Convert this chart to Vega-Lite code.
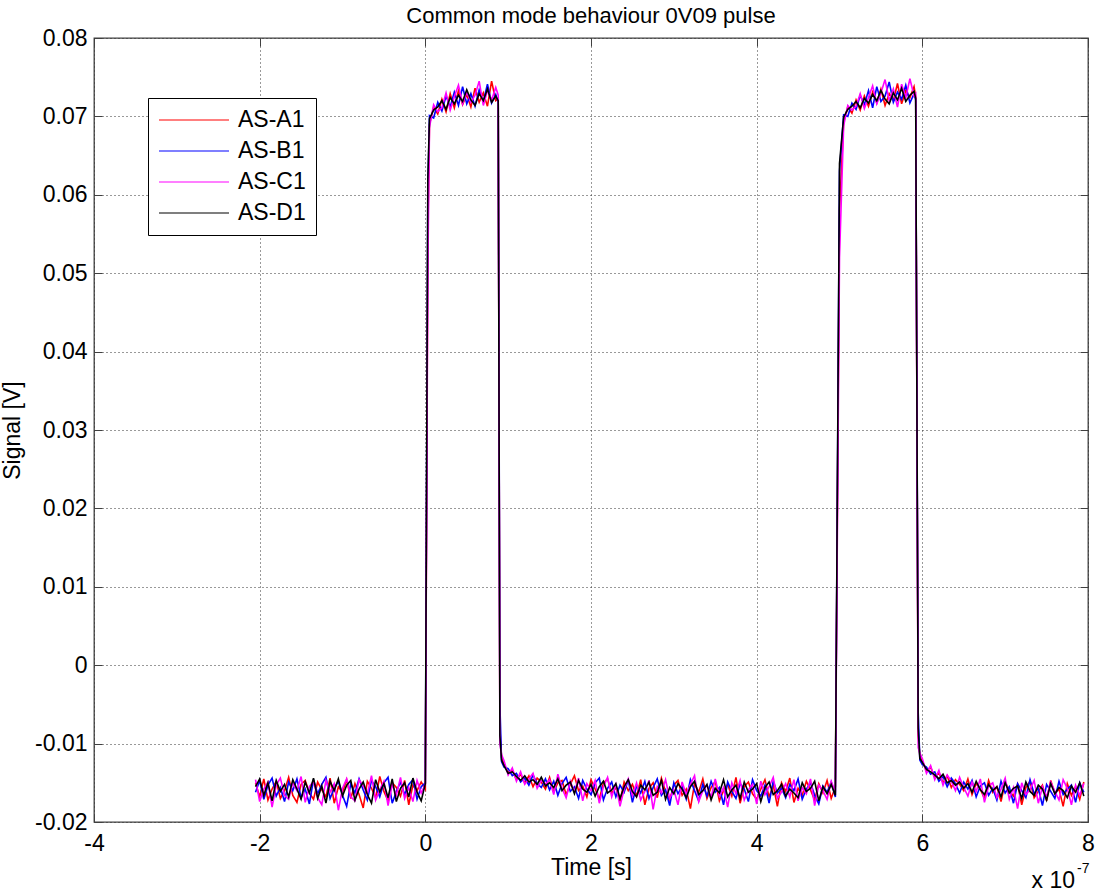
{
"$schema":"https://vega.github.io/schema/vega-lite/v6.json",
"width":994,"height":784,
"autosize":"none",
"padding":{"left":94,"top":38,"right":8,"bottom":72},
"background":"white",
"title":{"text":"Common mode behaviour 0V09 pulse","font":"Liberation Sans","fontSize":22,"fontWeight":"normal","color":"black","offset":-1},
"config":{
 "view":{"stroke":"#404040","strokeWidth":1.3},
 "axis":{"labelFont":"Liberation Sans","titleFont":"Liberation Sans","labelFontSize":23,"titleFontSize":23,"labelColor":"black","titleColor":"black","titleFontWeight":"normal","domain":false,"tickColor":"#404040","tickWidth":1,"gridColor":"#333333","gridDash":[1,3],"gridOpacity":1,"gridWidth":1,"labelFlush":false,"labelOverlap":false,"labelBound":false}
},
"data":{"values":[
{"t":-2.05,"AS-A1":-0.0150,"AS-B1":-0.0162,"AS-C1":-0.0146,"AS-D1":-0.0155},
{"t":-2.00,"AS-A1":-0.0168,"AS-B1":-0.0147,"AS-C1":-0.0174,"AS-D1":-0.0145},
{"t":-1.95,"AS-A1":-0.0145,"AS-B1":-0.0171,"AS-C1":-0.0158,"AS-D1":-0.0166},
{"t":-1.90,"AS-A1":-0.0172,"AS-B1":-0.0153,"AS-C1":-0.0149,"AS-D1":-0.0150},
{"t":-1.85,"AS-A1":-0.0158,"AS-B1":-0.0144,"AS-C1":-0.0181,"AS-D1":-0.0173},
{"t":-1.80,"AS-A1":-0.0148,"AS-B1":-0.0167,"AS-C1":-0.0153,"AS-D1":-0.0147},
{"t":-1.75,"AS-A1":-0.0170,"AS-B1":-0.0156,"AS-C1":-0.0144,"AS-D1":-0.0161},
{"t":-1.70,"AS-A1":-0.0160,"AS-B1":-0.0174,"AS-C1":-0.0166,"AS-D1":-0.0152},
{"t":-1.65,"AS-A1":-0.0143,"AS-B1":-0.0149,"AS-C1":-0.0171,"AS-D1":-0.0168},
{"t":-1.60,"AS-A1":-0.0166,"AS-B1":-0.0160,"AS-C1":-0.0150,"AS-D1":-0.0146},
{"t":-1.55,"AS-A1":-0.0175,"AS-B1":-0.0145,"AS-C1":-0.0160,"AS-D1":-0.0158},
{"t":-1.50,"AS-A1":-0.0152,"AS-B1":-0.0169,"AS-C1":-0.0142,"AS-D1":-0.0171},
{"t":-1.45,"AS-A1":-0.0147,"AS-B1":-0.0158,"AS-C1":-0.0175,"AS-D1":-0.0149},
{"t":-1.40,"AS-A1":-0.0163,"AS-B1":-0.0177,"AS-C1":-0.0155,"AS-D1":-0.0163},
{"t":-1.35,"AS-A1":-0.0171,"AS-B1":-0.0146,"AS-C1":-0.0148,"AS-D1":-0.0144},
{"t":-1.30,"AS-A1":-0.0149,"AS-B1":-0.0164,"AS-C1":-0.0169,"AS-D1":-0.0170},
{"t":-1.25,"AS-A1":-0.0159,"AS-B1":-0.0152,"AS-C1":-0.0178,"AS-D1":-0.0154},
{"t":-1.20,"AS-A1":-0.0168,"AS-B1":-0.0143,"AS-C1":-0.0147,"AS-D1":-0.0176},
{"t":-1.15,"AS-A1":-0.0144,"AS-B1":-0.0170,"AS-C1":-0.0162,"AS-D1":-0.0148},
{"t":-1.10,"AS-A1":-0.0176,"AS-B1":-0.0157,"AS-C1":-0.0151,"AS-D1":-0.0160},
{"t":-1.05,"AS-A1":-0.0155,"AS-B1":-0.0148,"AS-C1":-0.0185,"AS-D1":-0.0145},
{"t":-1.00,"AS-A1":-0.0162,"AS-B1":-0.0166,"AS-C1":-0.0157,"AS-D1":-0.0167},
{"t":-0.95,"AS-A1":-0.0146,"AS-B1":-0.0180,"AS-C1":-0.0145,"AS-D1":-0.0153},
{"t":-0.90,"AS-A1":-0.0170,"AS-B1":-0.0151,"AS-C1":-0.0168,"AS-D1":-0.0147},
{"t":-0.85,"AS-A1":-0.0151,"AS-B1":-0.0163,"AS-C1":-0.0173,"AS-D1":-0.0172},
{"t":-0.80,"AS-A1":-0.0165,"AS-B1":-0.0145,"AS-C1":-0.0146,"AS-D1":-0.0158},
{"t":-0.75,"AS-A1":-0.0182,"AS-B1":-0.0159,"AS-C1":-0.0154,"AS-D1":-0.0149},
{"t":-0.70,"AS-A1":-0.0148,"AS-B1":-0.0172,"AS-C1":-0.0164,"AS-D1":-0.0165},
{"t":-0.65,"AS-A1":-0.0157,"AS-B1":-0.0147,"AS-C1":-0.0141,"AS-D1":-0.0176},
{"t":-0.60,"AS-A1":-0.0169,"AS-B1":-0.0155,"AS-C1":-0.0172,"AS-D1":-0.0146},
{"t":-0.55,"AS-A1":-0.0142,"AS-B1":-0.0168,"AS-C1":-0.0159,"AS-D1":-0.0162},
{"t":-0.50,"AS-A1":-0.0161,"AS-B1":-0.0150,"AS-C1":-0.0148,"AS-D1":-0.0151},
{"t":-0.45,"AS-A1":-0.0173,"AS-B1":-0.0143,"AS-C1":-0.0179,"AS-D1":-0.0169},
{"t":-0.40,"AS-A1":-0.0150,"AS-B1":-0.0176,"AS-C1":-0.0152,"AS-D1":-0.0145},
{"t":-0.35,"AS-A1":-0.0156,"AS-B1":-0.0161,"AS-C1":-0.0166,"AS-D1":-0.0174},
{"t":-0.30,"AS-A1":-0.0167,"AS-B1":-0.0149,"AS-C1":-0.0143,"AS-D1":-0.0157},
{"t":-0.25,"AS-A1":-0.0147,"AS-B1":-0.0165,"AS-C1":-0.0170,"AS-D1":-0.0150},
{"t":-0.20,"AS-A1":-0.0178,"AS-B1":-0.0152,"AS-C1":-0.0156,"AS-D1":-0.0168},
{"t":-0.15,"AS-A1":-0.0153,"AS-B1":-0.0146,"AS-C1":-0.0174,"AS-D1":-0.0144},
{"t":-0.10,"AS-A1":-0.0160,"AS-B1":-0.0171,"AS-C1":-0.0147,"AS-D1":-0.0162},
{"t":-0.05,"AS-A1":-0.0149,"AS-B1":-0.0155,"AS-C1":-0.0163,"AS-D1":-0.0173},
{"t":0.00,"AS-A1":-0.0158,"AS-B1":-0.0150,"AS-C1":-0.0152,"AS-D1":-0.0151},
{"t":0.03,"AS-A1":0.0550,"AS-B1":0.0600,"AS-C1":0.0500,"AS-D1":0.0620},
{"t":0.05,"AS-A1":0.0690,"AS-B1":0.0701,"AS-C1":0.0686,"AS-D1":0.0697},
{"t":0.10,"AS-A1":0.0712,"AS-B1":0.0698,"AS-C1":0.0715,"AS-D1":0.0708},
{"t":0.15,"AS-A1":0.0703,"AS-B1":0.0718,"AS-C1":0.0706,"AS-D1":0.0712},
{"t":0.20,"AS-A1":0.0722,"AS-B1":0.0707,"AS-C1":0.0711,"AS-D1":0.0720},
{"t":0.25,"AS-A1":0.0706,"AS-B1":0.0726,"AS-C1":0.0730,"AS-D1":0.0709},
{"t":0.30,"AS-A1":0.0729,"AS-B1":0.0712,"AS-C1":0.0708,"AS-D1":0.0724},
{"t":0.35,"AS-A1":0.0711,"AS-B1":0.0731,"AS-C1":0.0725,"AS-D1":0.0716},
{"t":0.40,"AS-A1":0.0733,"AS-B1":0.0714,"AS-C1":0.0740,"AS-D1":0.0727},
{"t":0.45,"AS-A1":0.0715,"AS-B1":0.0738,"AS-C1":0.0716,"AS-D1":0.0719},
{"t":0.50,"AS-A1":0.0728,"AS-B1":0.0716,"AS-C1":0.0731,"AS-D1":0.0734},
{"t":0.55,"AS-A1":0.0712,"AS-B1":0.0729,"AS-C1":0.0718,"AS-D1":0.0721},
{"t":0.60,"AS-A1":0.0736,"AS-B1":0.0713,"AS-C1":0.0727,"AS-D1":0.0714},
{"t":0.65,"AS-A1":0.0718,"AS-B1":0.0734,"AS-C1":0.0745,"AS-D1":0.0729},
{"t":0.70,"AS-A1":0.0730,"AS-B1":0.0719,"AS-C1":0.0714,"AS-D1":0.0720},
{"t":0.75,"AS-A1":0.0713,"AS-B1":0.0741,"AS-C1":0.0733,"AS-D1":0.0735},
{"t":0.80,"AS-A1":0.0745,"AS-B1":0.0717,"AS-C1":0.0721,"AS-D1":0.0718},
{"t":0.85,"AS-A1":0.0720,"AS-B1":0.0728,"AS-C1":0.0737,"AS-D1":0.0726},
{"t":0.88,"AS-A1":0.0722,"AS-B1":0.0718,"AS-C1":0.0727,"AS-D1":0.0720},
{"t":0.90,"AS-A1":-0.0080,"AS-B1":-0.0050,"AS-C1":-0.0100,"AS-D1":-0.0090},
{"t":0.92,"AS-A1":-0.0118,"AS-B1":-0.0123,"AS-C1":-0.0114,"AS-D1":-0.0121},
{"t":0.95,"AS-A1":-0.0126,"AS-B1":-0.0130,"AS-C1":-0.0122,"AS-D1":-0.0128},
{"t":1.00,"AS-A1":-0.0137,"AS-B1":-0.0132,"AS-C1":-0.0140,"AS-D1":-0.0138},
{"t":1.05,"AS-A1":-0.0134,"AS-B1":-0.0141,"AS-C1":-0.0131,"AS-D1":-0.0136},
{"t":1.10,"AS-A1":-0.0146,"AS-B1":-0.0138,"AS-C1":-0.0148,"AS-D1":-0.0142},
{"t":1.15,"AS-A1":-0.0139,"AS-B1":-0.0149,"AS-C1":-0.0136,"AS-D1":-0.0147},
{"t":1.20,"AS-A1":-0.0150,"AS-B1":-0.0144,"AS-C1":-0.0152,"AS-D1":-0.0141},
{"t":1.25,"AS-A1":-0.0141,"AS-B1":-0.0153,"AS-C1":-0.0145,"AS-D1":-0.0149},
{"t":1.30,"AS-A1":-0.0155,"AS-B1":-0.0140,"AS-C1":-0.0138,"AS-D1":-0.0146},
{"t":1.35,"AS-A1":-0.0144,"AS-B1":-0.0151,"AS-C1":-0.0157,"AS-D1":-0.0152},
{"t":1.40,"AS-A1":-0.0149,"AS-B1":-0.0156,"AS-C1":-0.0147,"AS-D1":-0.0143},
{"t":1.45,"AS-A1":-0.0158,"AS-B1":-0.0145,"AS-C1":-0.0152,"AS-D1":-0.0154},
{"t":1.50,"AS-A1":-0.0143,"AS-B1":-0.0159,"AS-C1":-0.0146,"AS-D1":-0.0150},
{"t":1.55,"AS-A1":-0.0162,"AS-B1":-0.0148,"AS-C1":-0.0165,"AS-D1":-0.0156},
{"t":1.60,"AS-A1":-0.0150,"AS-B1":-0.0166,"AS-C1":-0.0139,"AS-D1":-0.0145},
{"t":1.65,"AS-A1":-0.0147,"AS-B1":-0.0151,"AS-C1":-0.0157,"AS-D1":-0.0160},
{"t":1.70,"AS-A1":-0.0165,"AS-B1":-0.0143,"AS-C1":-0.0169,"AS-D1":-0.0153},
{"t":1.75,"AS-A1":-0.0152,"AS-B1":-0.0161,"AS-C1":-0.0148,"AS-D1":-0.0149},
{"t":1.80,"AS-A1":-0.0141,"AS-B1":-0.0155,"AS-C1":-0.0162,"AS-D1":-0.0164},
{"t":1.85,"AS-A1":-0.0160,"AS-B1":-0.0170,"AS-C1":-0.0144,"AS-D1":-0.0147},
{"t":1.90,"AS-A1":-0.0154,"AS-B1":-0.0147,"AS-C1":-0.0173,"AS-D1":-0.0158},
{"t":1.95,"AS-A1":-0.0168,"AS-B1":-0.0158,"AS-C1":-0.0151,"AS-D1":-0.0162},
{"t":2.00,"AS-A1":-0.0146,"AS-B1":-0.0165,"AS-C1":-0.0160,"AS-D1":-0.0152},
{"t":2.05,"AS-A1":-0.0158,"AS-B1":-0.0150,"AS-C1":-0.0147,"AS-D1":-0.0167},
{"t":2.10,"AS-A1":-0.0171,"AS-B1":-0.0144,"AS-C1":-0.0176,"AS-D1":-0.0155},
{"t":2.15,"AS-A1":-0.0150,"AS-B1":-0.0172,"AS-C1":-0.0155,"AS-D1":-0.0148},
{"t":2.20,"AS-A1":-0.0145,"AS-B1":-0.0157,"AS-C1":-0.0143,"AS-D1":-0.0163},
{"t":2.25,"AS-A1":-0.0163,"AS-B1":-0.0149,"AS-C1":-0.0168,"AS-D1":-0.0159},
{"t":2.30,"AS-A1":-0.0156,"AS-B1":-0.0168,"AS-C1":-0.0152,"AS-D1":-0.0151},
{"t":2.35,"AS-A1":-0.0174,"AS-B1":-0.0153,"AS-C1":-0.0180,"AS-D1":-0.0170},
{"t":2.40,"AS-A1":-0.0149,"AS-B1":-0.0162,"AS-C1":-0.0158,"AS-D1":-0.0155},
{"t":2.45,"AS-A1":-0.0160,"AS-B1":-0.0146,"AS-C1":-0.0145,"AS-D1":-0.0146},
{"t":2.50,"AS-A1":-0.0152,"AS-B1":-0.0175,"AS-C1":-0.0166,"AS-D1":-0.0161},
{"t":2.55,"AS-A1":-0.0167,"AS-B1":-0.0154,"AS-C1":-0.0150,"AS-D1":-0.0168},
{"t":2.60,"AS-A1":-0.0146,"AS-B1":-0.0163,"AS-C1":-0.0172,"AS-D1":-0.0153},
{"t":2.65,"AS-A1":-0.0178,"AS-B1":-0.0148,"AS-C1":-0.0161,"AS-D1":-0.0159},
{"t":2.70,"AS-A1":-0.0157,"AS-B1":-0.0170,"AS-C1":-0.0147,"AS-D1":-0.0149},
{"t":2.75,"AS-A1":-0.0150,"AS-B1":-0.0156,"AS-C1":-0.0184,"AS-D1":-0.0166},
{"t":2.80,"AS-A1":-0.0169,"AS-B1":-0.0145,"AS-C1":-0.0155,"AS-D1":-0.0162},
{"t":2.85,"AS-A1":-0.0144,"AS-B1":-0.0166,"AS-C1":-0.0163,"AS-D1":-0.0147},
{"t":2.90,"AS-A1":-0.0161,"AS-B1":-0.0159,"AS-C1":-0.0146,"AS-D1":-0.0171},
{"t":2.95,"AS-A1":-0.0172,"AS-B1":-0.0179,"AS-C1":-0.0170,"AS-D1":-0.0156},
{"t":3.00,"AS-A1":-0.0153,"AS-B1":-0.0150,"AS-C1":-0.0159,"AS-D1":-0.0164},
{"t":3.05,"AS-A1":-0.0147,"AS-B1":-0.0164,"AS-C1":-0.0178,"AS-D1":-0.0151},
{"t":3.10,"AS-A1":-0.0166,"AS-B1":-0.0155,"AS-C1":-0.0149,"AS-D1":-0.0158},
{"t":3.15,"AS-A1":-0.0158,"AS-B1":-0.0171,"AS-C1":-0.0165,"AS-D1":-0.0169},
{"t":3.20,"AS-A1":-0.0183,"AS-B1":-0.0146,"AS-C1":-0.0152,"AS-D1":-0.0155},
{"t":3.25,"AS-A1":-0.0151,"AS-B1":-0.0160,"AS-C1":-0.0141,"AS-D1":-0.0148},
{"t":3.30,"AS-A1":-0.0162,"AS-B1":-0.0173,"AS-C1":-0.0174,"AS-D1":-0.0165},
{"t":3.35,"AS-A1":-0.0145,"AS-B1":-0.0152,"AS-C1":-0.0160,"AS-D1":-0.0160},
{"t":3.40,"AS-A1":-0.0170,"AS-B1":-0.0167,"AS-C1":-0.0153,"AS-D1":-0.0152},
{"t":3.45,"AS-A1":-0.0156,"AS-B1":-0.0148,"AS-C1":-0.0169,"AS-D1":-0.0172},
{"t":3.50,"AS-A1":-0.0148,"AS-B1":-0.0162,"AS-C1":-0.0145,"AS-D1":-0.0157},
{"t":3.55,"AS-A1":-0.0173,"AS-B1":-0.0156,"AS-C1":-0.0167,"AS-D1":-0.0163},
{"t":3.60,"AS-A1":-0.0160,"AS-B1":-0.0178,"AS-C1":-0.0156,"AS-D1":-0.0146},
{"t":3.65,"AS-A1":-0.0152,"AS-B1":-0.0149,"AS-C1":-0.0181,"AS-D1":-0.0168},
{"t":3.70,"AS-A1":-0.0167,"AS-B1":-0.0161,"AS-C1":-0.0150,"AS-D1":-0.0159},
{"t":3.75,"AS-A1":-0.0143,"AS-B1":-0.0170,"AS-C1":-0.0164,"AS-D1":-0.0153},
{"t":3.80,"AS-A1":-0.0176,"AS-B1":-0.0151,"AS-C1":-0.0147,"AS-D1":-0.0170},
{"t":3.85,"AS-A1":-0.0155,"AS-B1":-0.0158,"AS-C1":-0.0172,"AS-D1":-0.0149},
{"t":3.90,"AS-A1":-0.0149,"AS-B1":-0.0174,"AS-C1":-0.0159,"AS-D1":-0.0162},
{"t":3.95,"AS-A1":-0.0164,"AS-B1":-0.0146,"AS-C1":-0.0152,"AS-D1":-0.0158},
{"t":4.00,"AS-A1":-0.0171,"AS-B1":-0.0160,"AS-C1":-0.0177,"AS-D1":-0.0151},
{"t":4.05,"AS-A1":-0.0158,"AS-B1":-0.0167,"AS-C1":-0.0148,"AS-D1":-0.0174},
{"t":4.10,"AS-A1":-0.0146,"AS-B1":-0.0153,"AS-C1":-0.0165,"AS-D1":-0.0156},
{"t":4.15,"AS-A1":-0.0168,"AS-B1":-0.0176,"AS-C1":-0.0155,"AS-D1":-0.0149},
{"t":4.20,"AS-A1":-0.0153,"AS-B1":-0.0148,"AS-C1":-0.0143,"AS-D1":-0.0165},
{"t":4.25,"AS-A1":-0.0180,"AS-B1":-0.0163,"AS-C1":-0.0170,"AS-D1":-0.0160},
{"t":4.30,"AS-A1":-0.0150,"AS-B1":-0.0157,"AS-C1":-0.0162,"AS-D1":-0.0152},
{"t":4.35,"AS-A1":-0.0161,"AS-B1":-0.0169,"AS-C1":-0.0151,"AS-D1":-0.0167},
{"t":4.40,"AS-A1":-0.0144,"AS-B1":-0.0152,"AS-C1":-0.0168,"AS-D1":-0.0158},
{"t":4.45,"AS-A1":-0.0175,"AS-B1":-0.0160,"AS-C1":-0.0146,"AS-D1":-0.0163},
{"t":4.50,"AS-A1":-0.0157,"AS-B1":-0.0145,"AS-C1":-0.0173,"AS-D1":-0.0169},
{"t":4.55,"AS-A1":-0.0166,"AS-B1":-0.0171,"AS-C1":-0.0156,"AS-D1":-0.0150},
{"t":4.60,"AS-A1":-0.0148,"AS-B1":-0.0158,"AS-C1":-0.0164,"AS-D1":-0.0161},
{"t":4.65,"AS-A1":-0.0159,"AS-B1":-0.0150,"AS-C1":-0.0145,"AS-D1":-0.0157},
{"t":4.70,"AS-A1":-0.0172,"AS-B1":-0.0166,"AS-C1":-0.0179,"AS-D1":-0.0148},
{"t":4.75,"AS-A1":-0.0151,"AS-B1":-0.0177,"AS-C1":-0.0153,"AS-D1":-0.0173},
{"t":4.80,"AS-A1":-0.0163,"AS-B1":-0.0154,"AS-C1":-0.0160,"AS-D1":-0.0155},
{"t":4.85,"AS-A1":-0.0147,"AS-B1":-0.0162,"AS-C1":-0.0171,"AS-D1":-0.0164},
{"t":4.90,"AS-A1":-0.0170,"AS-B1":-0.0149,"AS-C1":-0.0148,"AS-D1":-0.0152},
{"t":4.95,"AS-A1":-0.0155,"AS-B1":-0.0168,"AS-C1":-0.0162,"AS-D1":-0.0166},
{"t":5.00,"AS-A1":0.0580,"AS-B1":0.0630,"AS-C1":0.0520,"AS-D1":0.0640},
{"t":5.05,"AS-A1":0.0693,"AS-B1":0.0702,"AS-C1":0.0688,"AS-D1":0.0699},
{"t":5.10,"AS-A1":0.0712,"AS-B1":0.0700,"AS-C1":0.0714,"AS-D1":0.0709},
{"t":5.15,"AS-A1":0.0704,"AS-B1":0.0717,"AS-C1":0.0708,"AS-D1":0.0713},
{"t":5.20,"AS-A1":0.0721,"AS-B1":0.0709,"AS-C1":0.0713,"AS-D1":0.0719},
{"t":5.25,"AS-A1":0.0708,"AS-B1":0.0727,"AS-C1":0.0729,"AS-D1":0.0711},
{"t":5.30,"AS-A1":0.0726,"AS-B1":0.0715,"AS-C1":0.0710,"AS-D1":0.0723},
{"t":5.35,"AS-A1":0.0713,"AS-B1":0.0733,"AS-C1":0.0724,"AS-D1":0.0717},
{"t":5.40,"AS-A1":0.0731,"AS-B1":0.0711,"AS-C1":0.0739,"AS-D1":0.0728},
{"t":5.45,"AS-A1":0.0717,"AS-B1":0.0738,"AS-C1":0.0716,"AS-D1":0.0720},
{"t":5.50,"AS-A1":0.0735,"AS-B1":0.0719,"AS-C1":0.0730,"AS-D1":0.0733},
{"t":5.55,"AS-A1":0.0714,"AS-B1":0.0726,"AS-C1":0.0747,"AS-D1":0.0722},
{"t":5.60,"AS-A1":0.0729,"AS-B1":0.0744,"AS-C1":0.0720,"AS-D1":0.0716},
{"t":5.65,"AS-A1":0.0720,"AS-B1":0.0718,"AS-C1":0.0735,"AS-D1":0.0730},
{"t":5.70,"AS-A1":0.0742,"AS-B1":0.0731,"AS-C1":0.0712,"AS-D1":0.0721},
{"t":5.75,"AS-A1":0.0716,"AS-B1":0.0722,"AS-C1":0.0741,"AS-D1":0.0736},
{"t":5.80,"AS-A1":0.0733,"AS-B1":0.0740,"AS-C1":0.0724,"AS-D1":0.0719},
{"t":5.85,"AS-A1":0.0724,"AS-B1":0.0717,"AS-C1":0.0748,"AS-D1":0.0727},
{"t":5.90,"AS-A1":0.0738,"AS-B1":0.0729,"AS-C1":0.0726,"AS-D1":0.0732},
{"t":5.92,"AS-A1":0.0725,"AS-B1":0.0721,"AS-C1":0.0729,"AS-D1":0.0723},
{"t":5.95,"AS-A1":-0.0090,"AS-B1":-0.0060,"AS-C1":-0.0105,"AS-D1":-0.0080},
{"t":5.97,"AS-A1":-0.0116,"AS-B1":-0.0121,"AS-C1":-0.0112,"AS-D1":-0.0119},
{"t":6.00,"AS-A1":-0.0122,"AS-B1":-0.0127,"AS-C1":-0.0119,"AS-D1":-0.0124},
{"t":6.05,"AS-A1":-0.0135,"AS-B1":-0.0130,"AS-C1":-0.0138,"AS-D1":-0.0133},
{"t":6.10,"AS-A1":-0.0130,"AS-B1":-0.0139,"AS-C1":-0.0128,"AS-D1":-0.0136},
{"t":6.15,"AS-A1":-0.0143,"AS-B1":-0.0136,"AS-C1":-0.0146,"AS-D1":-0.0140},
{"t":6.20,"AS-A1":-0.0137,"AS-B1":-0.0148,"AS-C1":-0.0134,"AS-D1":-0.0145},
{"t":6.25,"AS-A1":-0.0150,"AS-B1":-0.0142,"AS-C1":-0.0153,"AS-D1":-0.0139},
{"t":6.30,"AS-A1":-0.0141,"AS-B1":-0.0155,"AS-C1":-0.0140,"AS-D1":-0.0150},
{"t":6.35,"AS-A1":-0.0156,"AS-B1":-0.0144,"AS-C1":-0.0148,"AS-D1":-0.0147},
{"t":6.40,"AS-A1":-0.0146,"AS-B1":-0.0151,"AS-C1":-0.0160,"AS-D1":-0.0153},
{"t":6.45,"AS-A1":-0.0152,"AS-B1":-0.0163,"AS-C1":-0.0143,"AS-D1":-0.0149},
{"t":6.50,"AS-A1":-0.0160,"AS-B1":-0.0149,"AS-C1":-0.0156,"AS-D1":-0.0157},
{"t":6.55,"AS-A1":-0.0145,"AS-B1":-0.0158,"AS-C1":-0.0167,"AS-D1":-0.0151},
{"t":6.60,"AS-A1":-0.0165,"AS-B1":-0.0147,"AS-C1":-0.0149,"AS-D1":-0.0162},
{"t":6.65,"AS-A1":-0.0151,"AS-B1":-0.0168,"AS-C1":-0.0161,"AS-D1":-0.0148},
{"t":6.70,"AS-A1":-0.0158,"AS-B1":-0.0154,"AS-C1":-0.0145,"AS-D1":-0.0159},
{"t":6.75,"AS-A1":-0.0170,"AS-B1":-0.0150,"AS-C1":-0.0175,"AS-D1":-0.0165},
{"t":6.80,"AS-A1":-0.0147,"AS-B1":-0.0166,"AS-C1":-0.0154,"AS-D1":-0.0152},
{"t":6.85,"AS-A1":-0.0162,"AS-B1":-0.0157,"AS-C1":-0.0150,"AS-D1":-0.0160},
{"t":6.90,"AS-A1":-0.0155,"AS-B1":-0.0172,"AS-C1":-0.0169,"AS-D1":-0.0155},
{"t":6.95,"AS-A1":-0.0174,"AS-B1":-0.0148,"AS-C1":-0.0158,"AS-D1":-0.0168},
{"t":7.00,"AS-A1":-0.0149,"AS-B1":-0.0163,"AS-C1":-0.0144,"AS-D1":-0.0150},
{"t":7.05,"AS-A1":-0.0160,"AS-B1":-0.0155,"AS-C1":-0.0171,"AS-D1":-0.0163},
{"t":7.10,"AS-A1":-0.0167,"AS-B1":-0.0176,"AS-C1":-0.0156,"AS-D1":-0.0157},
{"t":7.15,"AS-A1":-0.0152,"AS-B1":-0.0151,"AS-C1":-0.0183,"AS-D1":-0.0154},
{"t":7.20,"AS-A1":-0.0178,"AS-B1":-0.0160,"AS-C1":-0.0150,"AS-D1":-0.0170},
{"t":7.25,"AS-A1":-0.0156,"AS-B1":-0.0169,"AS-C1":-0.0165,"AS-D1":-0.0149},
{"t":7.30,"AS-A1":-0.0148,"AS-B1":-0.0146,"AS-C1":-0.0159,"AS-D1":-0.0161},
{"t":7.35,"AS-A1":-0.0169,"AS-B1":-0.0164,"AS-C1":-0.0147,"AS-D1":-0.0166},
{"t":7.40,"AS-A1":-0.0161,"AS-B1":-0.0157,"AS-C1":-0.0176,"AS-D1":-0.0153},
{"t":7.45,"AS-A1":-0.0153,"AS-B1":-0.0179,"AS-C1":-0.0155,"AS-D1":-0.0158},
{"t":7.50,"AS-A1":-0.0173,"AS-B1":-0.0152,"AS-C1":-0.0168,"AS-D1":-0.0172},
{"t":7.55,"AS-A1":-0.0147,"AS-B1":-0.0161,"AS-C1":-0.0149,"AS-D1":-0.0151},
{"t":7.60,"AS-A1":-0.0164,"AS-B1":-0.0170,"AS-C1":-0.0161,"AS-D1":-0.0164},
{"t":7.65,"AS-A1":-0.0158,"AS-B1":-0.0148,"AS-C1":-0.0172,"AS-D1":-0.0156},
{"t":7.70,"AS-A1":-0.0180,"AS-B1":-0.0165,"AS-C1":-0.0146,"AS-D1":-0.0160},
{"t":7.75,"AS-A1":-0.0151,"AS-B1":-0.0158,"AS-C1":-0.0157,"AS-D1":-0.0169},
{"t":7.80,"AS-A1":-0.0166,"AS-B1":-0.0153,"AS-C1":-0.0178,"AS-D1":-0.0154},
{"t":7.85,"AS-A1":-0.0155,"AS-B1":-0.0175,"AS-C1":-0.0153,"AS-D1":-0.0162},
{"t":7.90,"AS-A1":-0.0171,"AS-B1":-0.0150,"AS-C1":-0.0166,"AS-D1":-0.0150},
{"t":7.95,"AS-A1":-0.0149,"AS-B1":-0.0162,"AS-C1":-0.0151,"AS-D1":-0.0167}
]},
"layer":[
 {
  "transform":[{"fold":["AS-A1","AS-B1","AS-C1","AS-D1"],"as":["series","value"]}],
  "mark":{"type":"line","strokeWidth":1.6},
  "encoding":{
   "x":{"field":"t","type":"quantitative","scale":{"domain":[-4,8],"nice":false,"zero":false},
        "axis":{"orient":"bottom","values":[-4,-2,0,2,4,6,8],"labelExpr":"replace(format(datum.value,'d'),'\u2212','-')","grid":true,"tickSize":-8,"labelPadding":18,"title":"Time [s]","titlePadding":1}},
   "y":{"field":"value","type":"quantitative","scale":{"domain":[-0.02,0.08],"nice":false,"zero":false},
        "axis":{"orient":"left","values":[-0.02,-0.01,0,0.01,0.02,0.03,0.04,0.05,0.06,0.07,0.08],"labelExpr":"datum.value == 0 ? '0' : replace(format(datum.value,'.2f'),'\u2212','-')","grid":true,"tickSize":-8,"labelPadding":15,"title":"Signal [V]","titlePadding":10}},
   "color":{"field":"series","type":"nominal","scale":{"domain":["AS-A1","AS-B1","AS-C1","AS-D1"],"range":["#ff0000","#0000ff","#ff00ff","#000000"]},
        "legend":{"title":null,"orient":"none","legendX":54,"legendY":60,"symbolType":"stroke","symbolSize":4900,"symbolStrokeWidth":1.2,"clipHeight":24,"rowPadding":7,"padding":10,"labelOffset":8,"labelFont":"Liberation Sans","labelFontSize":23,"labelColor":"black","strokeColor":"#000000","fillColor":"white"}}
  }
 },
 {
  "data":{"values":[{"label":"x 10"}]},
  "mark":{"type":"text","font":"Liberation Sans","fontSize":23,"color":"black","align":"right","baseline":"middle","dx":-13,"dy":59},
  "encoding":{
   "x":{"datum":8,"type":"quantitative","axis":{"orient":"top","values":[-4,-2,0,2,4,6,8],"labels":false,"grid":false,"tickSize":-8,"title":null}},
   "y":{"datum":-0.02,"type":"quantitative","axis":{"orient":"right","values":[-0.02,-0.01,0,0.01,0.02,0.03,0.04,0.05,0.06,0.07,0.08],"labels":false,"grid":false,"tickSize":-8,"title":null}},
   "text":{"field":"label"}
  }
 },
 {
  "data":{"values":[{"label":"-7"}]},
  "mark":{"type":"text","font":"Liberation Sans","fontSize":14,"color":"black","align":"left","baseline":"middle","dx":-11,"dy":47},
  "encoding":{
   "x":{"datum":8,"type":"quantitative","axis":null},
   "y":{"datum":-0.02,"type":"quantitative","axis":null},
   "text":{"field":"label"}
  }
 }
],
"resolve":{"axis":{"x":"independent","y":"independent"}}
}
